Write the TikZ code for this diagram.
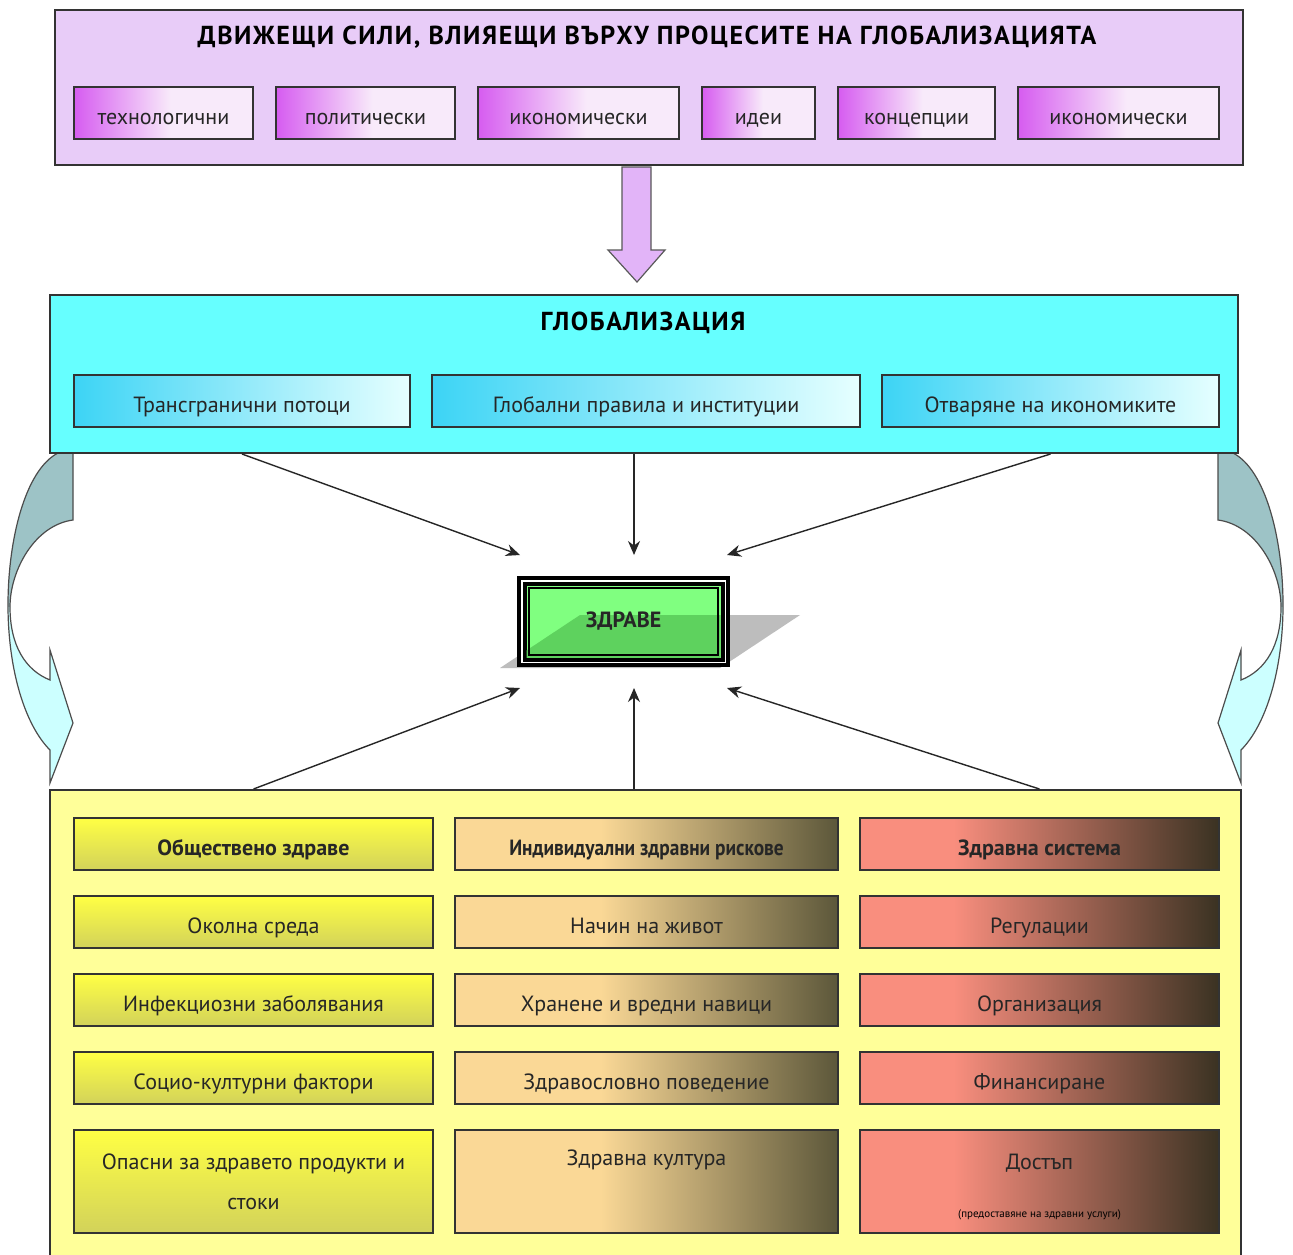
\documentclass[tikz,border=0pt]{standalone}
\usepackage{fontspec}
\setmainfont{PT Sans}
\usepackage{graphicx}
\usetikzlibrary{positioning,arrows.meta}

\definecolor{lilac}{HTML}{E8CCF8}
\definecolor{magA}{HTML}{D65CF0}
\definecolor{magB}{HTML}{F8EAFA}
\definecolor{arrlilac}{HTML}{E2B4F8}
\definecolor{cyanbg}{HTML}{66FFFF}
\definecolor{cyanA}{HTML}{3CD4F5}
\definecolor{cyanB}{HTML}{E6FFFF}
\definecolor{lowbg}{HTML}{FFFF99}
\definecolor{yelA}{HTML}{FFFF44}
\definecolor{yelB}{HTML}{D2D25A}
\definecolor{tanA}{HTML}{FAD896}
\definecolor{tanB}{HTML}{5C573A}
\definecolor{salA}{HTML}{F98E7E}
\definecolor{salB}{HTML}{3A3222}
\definecolor{bendtop}{HTML}{9DC3C6}
\definecolor{bendlow}{HTML}{CCFFFF}
\definecolor{healthgreen}{HTML}{80FF80}
\definecolor{healthdark}{HTML}{5ED25E}
\definecolor{shadowgray}{HTML}{BDBDBD}

\pgfdeclarehorizontalshading{forceshade}{100bp}{color(0bp)=(magA); color(25bp)=(magA); color(52bp)=(magB); color(75bp)=(magB); color(100bp)=(magB)}
\pgfdeclarehorizontalshading{tanshade}{100bp}{color(0bp)=(tanA); color(25bp)=(tanA); color(44bp)=(tanA); color(75bp)=(tanB); color(100bp)=(tanB)}
\pgfdeclarehorizontalshading{salshade}{100bp}{color(0bp)=(salA); color(25bp)=(salA); color(38bp)=(salA); color(75bp)=(salB); color(100bp)=(salB)}

% curved side arrow, left one; the right one is mirrored
\newcommand\bendpath{(73,453) -- (73,520) .. controls (35,525) and (10,570) .. (10,607)
	.. controls (10,645) and (25,670) .. (50,680) -- (50,650) -- (73,723) -- (50,783) -- (50,750)
	.. controls (25,725) and (8,670) .. (8,605) .. controls (8,540) and (25,470) .. (58,453) -- cycle}
\newcommand\bendarrow{%
	\begin{scope}
		\clip (0,440) rectangle (100,607);
		\fill[bendtop] \bendpath;
	\end{scope}
	\begin{scope}
		\clip (0,607) rectangle (100,800);
		\fill[bendlow] \bendpath;
	\end{scope}
	\draw[black!70, line width=0.6pt] \bendpath;}

\begin{document}
\begin{tikzpicture}[x=0.5pt, y=-0.5pt,
	every node/.style = {font=\fontsize{11}{13}\selectfont, text=black!85},
	frame/.style = {draw=black!80, line width=1pt},
	low text/.style = {text height=1.15em, text depth=0.05em},
	head text/.style = {font=\fontsize{13}{15}\selectfont\bfseries\addfontfeature{LetterSpace=6}, text=black},
	force/.style = {frame, low text, shading=forceshade, minimum height=26pt},
	glob part/.style = {frame, low text, left color=cyanA, right color=cyanB, minimum height=26pt},
	col one/.style = {frame, top color=yelA, bottom color=yelB, minimum width=179.5pt},
	col two/.style = {frame, shading=tanshade, minimum width=191.5pt},
	col three/.style = {frame, shading=salshade, minimum width=179.5pt},
	one row/.style = {low text, minimum height=26pt},
	tall row/.style = {minimum height=51.5pt},
	big arr/.style = {fill=arrlilac, draw=black!65, line width=0.6pt},
	thin arr/.style = {-{Stealth[length=7pt,width=6pt]}, line width=0.7pt, draw=black!85},
	health/.style = {fill=black, minimum width=106.5pt, minimum height=45.5pt,
		path picture={
			\fill[white] ([shift={(4,4)}]path picture bounding box.north west) rectangle ([shift={(-4,-4)}]path picture bounding box.south east);
			\fill[black] ([shift={(5.5,5.5)}]path picture bounding box.north west) rectangle ([shift={(-5.5,-5.5)}]path picture bounding box.south east);
			\fill[healthgreen] ([shift={(9.5,9.5)}]path picture bounding box.north west) rectangle ([shift={(-9.5,-9.5)}]path picture bounding box.south east);
			\begin{scope}
				\clip ([shift={(9.5,9.5)}]path picture bounding box.north west) rectangle ([shift={(-9.5,-9.5)}]path picture bounding box.south east);
				\fill[healthdark] ([shift={(-123.5,46.5)}]path picture bounding box.center) -- ([shift={(96.5,46.5)}]path picture bounding box.center)
					-- ([shift={(176.5,-6.5)}]path picture bounding box.center) -- ([shift={(-43.5,-6.5)}]path picture bounding box.center) -- cycle;
			\end{scope}
			\draw[black, line width=0.75pt] ([shift={(12,12)}]path picture bounding box.north west) rectangle ([shift={(-12,-12)}]path picture bounding box.south east);
		}}
	]
	\fill[white] (0,0) rectangle (1293,1254);
	\useasboundingbox (0,0) rectangle (1293,1254);

	% driving forces
	\node[frame, fill=lilac, minimum width=594pt, minimum height=77.5pt] (forces) at (649,87.5) {};
	\node[head text] (forcestitle) at (647,37) {ДВИЖЕЩИ СИЛИ, ВЛИЯЕЩИ ВЪРХУ ПРОЦЕСИТЕ НА ГЛОБАЛИЗАЦИЯТА};
	\node[force, minimum width=89.5pt] (tech) at (163.5,113) {технологични};
	\node[force, minimum width=89.5pt] (pol) at (365.5,113) {политически};
	\node[force, minimum width=100.5pt] (econ) at (578.5,113) {икономически};
	\node[force, minimum width=56.5pt] (ideas) at (758.5,113) {идеи};
	\node[force, minimum width=78.5pt] (conc) at (916.5,113) {концепции};
	\node[force, minimum width=100.5pt] (econb) at (1118.5,113) {икономически};

	\coordinate (dtip) at (637,282);
	\draw[big arr] (dtip) -- ++(28,-32) -- ++(-14,0) -- ++(0,-83) -- ++(-29,0) -- ++(0,83) -- ++(-14,0) -- cycle;

	% side arrows
	\bendarrow
	\begin{scope}[shift={(1291,0)}, xscale=-1]
		\bendarrow
	\end{scope}

	% globalization
	\node[frame, fill=cyanbg, minimum width=594pt, minimum height=79pt] (glob) at (644,374) {};
	\node[head text] (globtitle) at (643,323) {ГЛОБАЛИЗАЦИЯ};
	\node[glob part, minimum width=168pt] (flows) at (242,401) {Трансгранични потоци};
	\node[glob part, minimum width=214pt] (rules) at (646,401) {Глобални правила и институции};
	\node[glob part, minimum width=168.5pt] (open) at (1050.5,401) {Отваряне на икономиките};

	% health determinants
	\node[frame, fill=lowbg, minimum width=595.5pt, minimum height=235pt] (low) at (645.5,1025) {};

	\node[col one, one row] (pub1) at (253.5,844) {\bfseries Обществено здраве};
	\node[col one, one row] (pub2) at (253.5,922) {Околна среда};
	\node[col one, one row] (pub3) at (253.5,1000) {Инфекциозни заболявания};
	\node[col one, one row] (pub4) at (253.5,1078) {Социо-културни фактори};
	\node[col one, tall row, align=center, font=\fontsize{11}{20}\selectfont] (pub5) at (253.5,1181.5) {Опасни за здравето продукти и\\стоки};

	\node[col two, one row] (risk1) at (646.5,844) {\bfseries\scalebox{0.88}[1]{Индивидуални здравни рискове}};
	\node[col two, one row] (risk2) at (646.5,922) {Начин на живот};
	\node[col two, one row] (risk3) at (646.5,1000) {Хранене и вредни навици};
	\node[col two, one row] (risk4) at (646.5,1078) {Здравословно поведение};
	\node[col two, tall row] (risk5) at (646.5,1181.5) {};
	\node[below=7pt of risk5.north] (risk5text) {Здравна култура};

	\node[col three, one row] (sys1) at (1039.5,844) {\bfseries Здравна система};
	\node[col three, one row] (sys2) at (1039.5,922) {Регулации};
	\node[col three, one row] (sys3) at (1039.5,1000) {Организация};
	\node[col three, one row] (sys4) at (1039.5,1078) {Финансиране};
	\node[col three, tall row] (sys5) at (1039.5,1181.5) {};
	\node[below=9pt of sys5.north] (sys5text) {Достъп};
	\node[above=3.5pt of sys5.south, font=\fontsize{5.5}{6}\selectfont, text=black] (sys5note) {(предоставяне на здравни услуги)};

	% health
	\fill[shadowgray] (500,668) -- (720,668) -- (800,615) -- (580,615) -- cycle;
	\node[health] (zdrave) at (623.5,621.5) {\bfseries ЗДРАВЕ};

	\coordinate (in1) at (520,555);
	\coordinate (in2) at (634,555);
	\coordinate (in3) at (727,555);
	\coordinate (out1) at (520,688);
	\coordinate (out2) at (634,688);
	\coordinate (out3) at (727,688);
	\draw[thin arr] (flows |- glob.south) -- (in1);
	\draw[thin arr] (in2 |- glob.south) -- (in2);
	\draw[thin arr] (open |- glob.south) -- (in3);
	\draw[thin arr] (pub1 |- low.north) -- (out1);
	\draw[thin arr] (out2 |- low.north) -- (out2);
	\draw[thin arr] (sys1 |- low.north) -- (out3);
\end{tikzpicture}
\end{document}
